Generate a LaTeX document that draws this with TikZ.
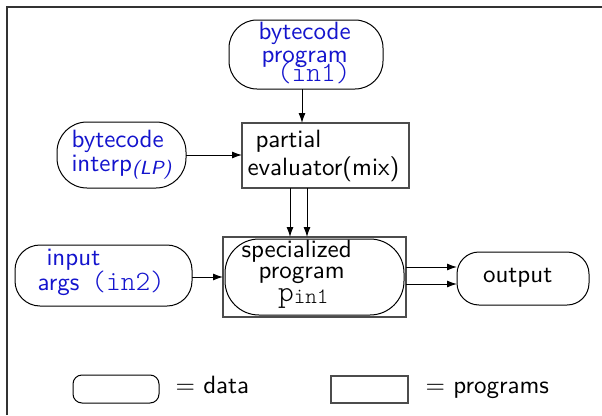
\documentclass[tikz,border=0pt]{standalone}
\usetikzlibrary{arrows.meta}
\definecolor{textblue}{RGB}{20,20,205}
% thin monospaced face for code names
\newcommand\codefont[2][11.2]{{\fontsize{#1}{#1}\fontseries{l}\ttfamily #2}}
\tikzset{
  every node/.style={inner sep=0pt, outer sep=0pt},
  txt/.style={anchor=base west, scale=2.5, font=\sffamily\fontsize{10}{10}\selectfont},
  datatxt/.style={txt, text=textblue},
  datashape/.style={draw=black, line width=1pt, rounded corners=#1},
  progshape/.style={draw=black!70, line width=1.4pt},
  arr/.style={line width=1pt, -{Latex[length=10pt,width=7pt]}},
  framestyle/.style={line width=1.8pt, draw=black!80}
}
\begin{document}
\begin{tikzpicture}[x=1pt,y=-1pt]
\useasboundingbox (0,0) rectangle (602,415);
% frame
\draw[framestyle] (7,415) -- (7,7) -- (602,7);

% shapes
\node[datashape=28pt, minimum width=154pt, minimum height=69pt] (prog) at (306,54.5) {};
\node[datashape=30pt, minimum width=129pt, minimum height=66pt] (interp) at (121.5,155) {};
\node[progshape, minimum width=167pt, minimum height=65pt] (partial) at (325.5,155.5) {};
\node[datashape=25pt, minimum width=177pt, minimum height=61pt] (input) at (103.5,275.5) {};
\node[progshape, minimum width=183pt, minimum height=80pt] (specbox) at (314.5,277) {};
\node[datashape=34pt, minimum width=179pt, minimum height=76pt] (spec) at (314.5,277) {};
\node[datashape=22pt, minimum width=132pt, minimum height=53pt] (output) at (523,278.5) {};

% texts
\node[datatxt] (prog1) at (258.5,39) {bytecode};
\node[datatxt] (prog2) at (261.5,62) {program};
\node[datatxt] (prog3) at (277,81) {\codefont{(in1)}};
\node[datatxt] (interp1) at (71.5,147) {bytecode};
\node[datatxt] (interp2) at (71.5,171) {interp\raisebox{-1.2pt}{\fontsize{7.6}{7.6}\selectfont\itshape (LP)}};
\node[txt] (partial1) at (255.5,147) {partial};
\node[txt] (partial2) at (247.5,175) {evaluator(mix)};
\node[datatxt] (input1) at (46.5,265) {input};
\node[datatxt] (input2) at (37.5,290) {args\hspace{4.8pt}\codefont{(in2)}};
\node[txt] (spec1) at (241.5,257) {specialized};
\node[txt] (spec2) at (258.5,278) {program};
\node[txt] (spec3) at (278,301) {\codefont[12]{p}\raisebox{-0.8pt}{\codefont[8.8]{in1}}};
\node[txt] (output1) at (483,282) {output};

% connectors
\coordinate (p1) at ([xshift=-4pt]prog.south);
\draw[arr] (p1) -- (p1 |- partial.north);
\draw[arr] (interp.east) -- (interp.east -| partial.west);
\coordinate (m1) at ([xshift=-35.5pt]partial.south);
\coordinate (m2) at ([xshift=-18.5pt]partial.south);
\draw[arr] (m1) -- (m1 |- specbox.north);
\draw[arr] (m2) -- (m2 |- specbox.north);
\coordinate (i1) at ([yshift=-1.5pt]input.east);
\draw[arr] (i1) -- (i1 -| specbox.west);
\coordinate (o1) at ([yshift=10pt]specbox.east);
\coordinate (o2) at ([yshift=-7pt]specbox.east);
\draw[arr] (o1) -- (o1 -| output.west);
\draw[arr] (o2) -- (o2 -| output.west);

% legend
\node[datashape=9pt, minimum width=86pt, minimum height=28pt] (legdata) at (116,389) {};
\node[txt] (legdatatxt) at (175.5,393) {$=$ data};
\node[progshape, minimum width=77pt, minimum height=27pt] (legprog) at (369.5,389.5) {};
\node[txt] (legprogtxt) at (425.5,393) {$=$ programs};
\end{tikzpicture}
\end{document}
